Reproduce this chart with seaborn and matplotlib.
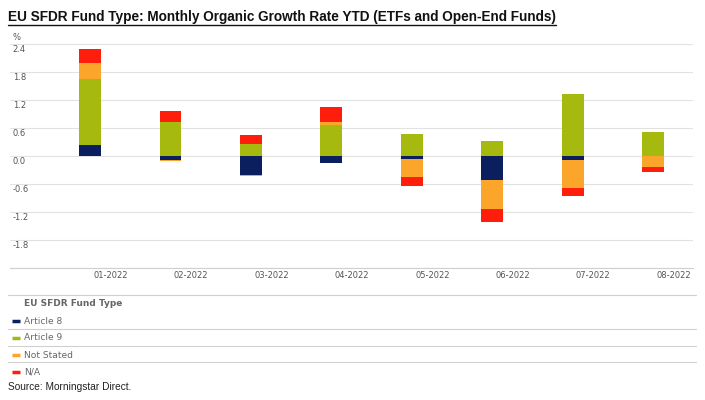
import numpy as np
import pandas as pd
import matplotlib
matplotlib.use('Agg')
import matplotlib.pyplot as plt
from matplotlib.lines import Line2D
import seaborn as sns

# data (% organic growth, monthly YTD)
months = ['01-2022', '02-2022', '03-2022', '04-2022', '05-2022', '06-2022', '07-2022', '08-2022']
series_names = ['Article 8', 'Article 9', 'Not Stated', 'N/A']
article8 = [0.24, -0.08, -0.41, -0.15, -0.06, -0.50, -0.07, 0.00]
article9 = [1.42, 0.74, 0.26, 0.67, 0.48, 0.32, 1.34, 0.52]
not_stated = [0.34, -0.03, -0.01, 0.07, -0.39, -0.62, -0.61, -0.23]
na = [0.31, 0.23, 0.19, 0.32, -0.19, -0.29, -0.18, -0.11]
colors = ['#0b1f5e', '#a6b90f', '#fba52a', '#ff1e0c']
y_ticks = [-2.4, -1.8, -1.2, -0.6, 0.0, 0.6, 1.2, 1.8, 2.4]

title = 'EU SFDR Fund Type: Monthly Organic Growth Rate YTD (ETFs and Open-End Funds)'
source = 'Source: Morningstar Direct.'
narrow = ['Liberation Sans', 'DejaVu Sans']

# long table with cumulative positive / negative stacks
vals = np.array([article8, article9, not_stated, na])
pos_cum = np.cumsum(np.clip(vals, 0, None), axis=0)
neg_cum = np.cumsum(np.clip(vals, None, 0), axis=0)
rows = []
for k, name in enumerate(series_names):
    for i, m in enumerate(months):
        rows.append({'month': m, 'series': name, 'value': vals[k, i],
                     'pos': pos_cum[k, i], 'neg': neg_cum[k, i]})
df = pd.DataFrame(rows)

sns.set_style('white')
plt.rcParams['font.family'] = ['DejaVu Sans']

W, H = 705, 400
fig = plt.figure(figsize=(W / 100, H / 100), dpi=100)
fx = lambda px: px / W
fy = lambda py: 1 - py / H

ax = fig.add_axes([fx(10), fy(268.3), fx(693) - fx(10), fy(44.3) - fy(268.3)])

# draw the stacks back to front so each segment shows
for k in reversed(range(len(series_names))):
    sub = df[df['series'] == series_names[k]]
    for col in ['pos', 'neg']:
        sns.barplot(data=sub, x='month', y=col, order=months, color=colors[k],
                    saturation=1, width=0.27, errorbar=None, ax=ax, zorder=3,
                    linewidth=0, edgecolor='none')

ax.set_xlim(-0.994, 7.495)
ax.set_ylim(-2.4, 2.4)
ax.set_xlabel('')
ax.set_ylabel('')
ax.set_yticks(y_ticks)
ax.set_yticklabels([])
ax.tick_params(axis='y', length=0)
ax.grid(axis='y', color='#e2e2e2', lw=0.8, zorder=0)
ax.set_axisbelow(True)
for s in ['top', 'left', 'right']:
    ax.spines[s].set_visible(False)
ax.spines['bottom'].set_color('#cfcfcf')
ax.spines['bottom'].set_linewidth(0.8)

# month separators and right-aligned labels
ax.set_xticks(np.arange(len(months) - 1) + 0.5)
ax.set_xticklabels([])
ax.tick_params(axis='x', length=13.5 * 0.72, width=0.8, color='#d5d5d5')
xt = ax.get_xaxis_transform()
for i, m in enumerate(months):
    ax.text(i + 0.47, -0.03, m, transform=xt, ha='right', va='center',
            fontsize=6, color='#555555')

for v in y_ticks[1:]:
    ax.text(0.004, v - 0.107, f'{v:.1f}', transform=ax.get_yaxis_transform(),
            ha='left', va='center', fontsize=6, color='#555555')
ax.text(0.004, 2.556, '%', transform=ax.get_yaxis_transform(), ha='left',
        va='center', fontsize=6, color='#555555', clip_on=False)

# title and source, sized to the reference widths
t = fig.text(fx(8), fy(17), title, fontsize=10, fontweight='bold',
             family=narrow, va='center', ha='left', color='#111111')
s = fig.text(fx(8), fy(386.5), source, fontsize=8, family=narrow, color='#222222',
             va='center', ha='left')
fig.canvas.draw()
for txt, target in [(t, 552), (s, 124)]:
    w = txt.get_window_extent().width
    txt.set_fontsize(txt.get_fontsize() * target / w)
fig.canvas.draw()
bb = t.get_window_extent()
fig.add_artist(Line2D([bb.x0 / W, bb.x1 / W], [fy(24.5), fy(24.5)],
                      transform=fig.transFigure, color='#111111', lw=1))

# legend block
for py in [295, 329, 346, 362]:
    fig.add_artist(Line2D([fx(8), fx(696)], [fy(py), fy(py)],
                          transform=fig.transFigure, color='#d0d0d0', lw=0.8))
fig.text(fx(24), fy(304), 'EU SFDR Fund Type', fontsize=6.5, fontweight='bold',
         color='#666666', va='center', ha='left')
for k, (name, py) in enumerate(zip(series_names, [321, 338, 355, 372])):
    fig.add_artist(Line2D([fx(12), fx(20)], [fy(py), fy(py)],
                          transform=fig.transFigure, color=colors[k], lw=2.5,
                          solid_capstyle='butt'))
    fig.text(fx(24), fy(py), name, fontsize=6.6, color='#666666',
             va='center', ha='left')

fig.savefig('out.png', dpi=100)
